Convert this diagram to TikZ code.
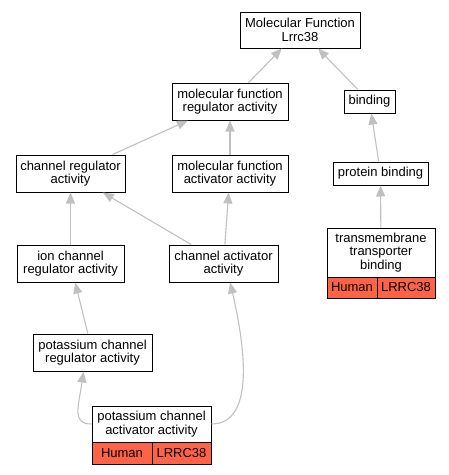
\documentclass[tikz,border=0pt]{standalone}
\usepackage{fontspec}
\setmainfont{Liberation Sans}
\usetikzlibrary{arrows.meta,calc}
\definecolor{edgegray}{RGB}{192,192,192}
\definecolor{tomatored}{RGB}{255,99,71}
\tikzset{
  box/.style={draw=black, line width=1pt, fill=white, align=center, inner sep=0pt,
    font=\fontsize{13}{13.5}\selectfont},
  redbox/.style={box, fill=tomatored},
  edge/.style={draw=edgegray, line width=1.1pt, -{Triangle[length=11pt,width=9pt,fill=edgegray]}}
}
\begin{document}
\begin{tikzpicture}[x=1pt,y=-1pt]
\useasboundingbox (0,0) rectangle (449,475);
% nodes
\node[box, minimum width=120, minimum height=36] (mf) at (300,30) {Molecular Function\\Lrrc38};
\node[box, minimum width=116, minimum height=37] (mfra) at (230,101.5) {molecular function\\regulator activity};
\node[box, minimum width=51, minimum height=23] (bind) at (369.5,101.5) {binding};
\node[box, minimum width=109, minimum height=37] (cra) at (70.5,173.5) {channel regulator\\activity};
\node[box, minimum width=116, minimum height=37] (mfaa) at (230,173.5) {molecular function\\activator activity};
\node[box, minimum width=95, minimum height=23] (pb) at (380.5,173.5) {protein binding};
\node[box, minimum width=107, minimum height=37] (icra) at (70.5,263.5) {ion channel\\regulator activity};
\node[box, minimum width=109, minimum height=37] (caa) at (223.5,263.5) {channel activator\\activity};
\node[box, minimum width=108, minimum height=49] (tmb) at (381,252.5) {transmembrane\\transporter\\binding};
\node[redbox, minimum width=50, minimum height=21] (tmbh) at (352,287.5) {Human};
\node[redbox, minimum width=58, minimum height=21] (tmbg) at (406,287.5) {LRRC38};
\node[box, minimum width=119, minimum height=37] (pcra) at (92.5,352.5) {potassium channel\\regulator activity};
\node[box, minimum width=119, minimum height=36] (pcaa) at (151.5,424) {potassium channel\\activator activity};
\node[redbox, minimum width=60, minimum height=22] (pcaah) at (122,453) {Human};
\node[redbox, minimum width=59, minimum height=22] (pcaag) at (181.5,453) {LRRC38};
% edges
\draw[edge] (mfra) -- (mf);
\draw[edge] (bind) -- (mf);
\draw[edge] (cra) -- (mfra);
\draw[edge] (mfaa) -- (mfra);
\draw[edge] (pb) -- (bind);
\draw[edge] (tmb) -- (pb);
\draw[edge] (icra) -- (cra);
\draw[edge] (caa) -- (cra);
\draw[edge] (caa) -- (mfaa);
\draw[edge] (pcra) -- (icra);
\coordinate (pcratip) at ($(pcra.south west)!0.425!(pcra.south east)$);
\coordinate (caatip) at ($(caa.south west)!0.56!(caa.south east)$);
\draw[edge] (pcaa.west) .. controls ($(pcaa.west)+(-20,0)$) and ($(pcratip)+(-5,35)$) .. (pcratip);
\draw[edge] (pcaa.east) .. controls ($(pcaa.east)+(45,0)$) and ($(caatip)+(14,60)$) .. (caatip);
\end{tikzpicture}
\end{document}
